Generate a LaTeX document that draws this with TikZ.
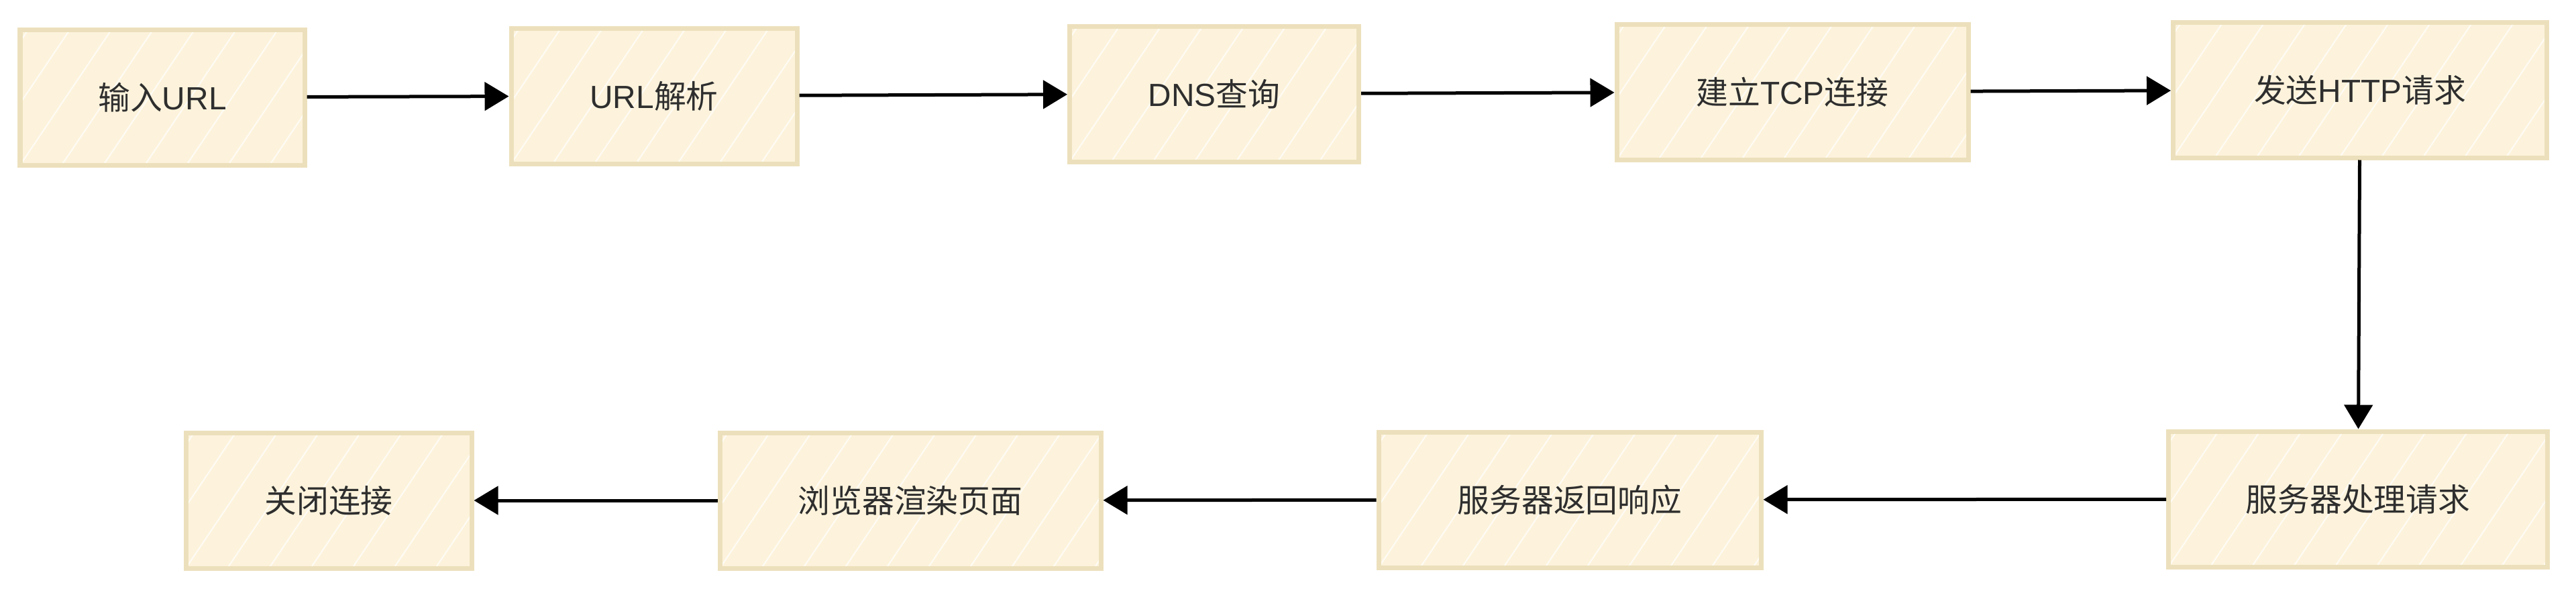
\documentclass[tikz,border=0pt]{standalone}
\usepackage{fontspec}
\setmainfont{Liberation Sans}
\newfontfamily\cjk{Noto Sans CJK SC}
\usetikzlibrary{arrows.meta}
\definecolor{boxfill}{HTML}{FDF3DC}
\definecolor{boxline}{HTML}{ECE0BC}
\definecolor{txt}{HTML}{2E2E2E}
\tikzset{
  stepbox/.style={rectangle, inner sep=0pt, fill=boxfill, draw=boxline,
    line width=0.07cm, minimum height=2.02cm, text=txt,
    font=\fontsize{13.6pt}{16pt}\selectfont,
    path picture={
      \foreach \i in {-4,...,11}{
        \draw[white, opacity=0.7, line width=0.6pt]
          ([xshift=\i*0.62cm]path picture bounding box.south west) -- ++(56:2.7cm);
      }
    }},
  arr/.style={draw=black, line width=0.05cm,
    -{Triangle[length=0.36cm, width=0.42cm]}}
}
\begin{document}
\begin{tikzpicture}
\useasboundingbox (0,0) rectangle (38.40,-8.83);
\node[stepbox, minimum width=4.24cm] (b1) at (2.42,-1.45) {{\cjk 输入}URL};
\node[stepbox, minimum width=4.26cm] (b2) at (9.75,-1.43) {URL{\cjk 解析}};
\node[stepbox, minimum width=4.31cm] (b3) at (18.10,-1.40) {DNS{\cjk 查询}};
\node[stepbox, minimum width=5.24cm] (b4) at (26.72,-1.37) {{\cjk 建立}TCP{\cjk 连接}};
\node[stepbox, minimum width=5.57cm] (b5) at (35.18,-1.34) {{\cjk 发送}HTTP{\cjk 请求}};
\node[stepbox, minimum width=5.65cm] (b6) at (35.15,-7.44) {\cjk 服务器处理请求};
\node[stepbox, minimum width=5.70cm] (b7) at (23.40,-7.45) {\cjk 服务器返回响应};
\node[stepbox, minimum width=5.68cm] (b8) at (13.57,-7.46) {\cjk 浏览器渲染页面};
\node[stepbox, minimum width=4.26cm] (b9) at (4.90,-7.46) {\cjk 关闭连接};
\draw[arr] (b1) -- (b2);
\draw[arr] (b2) -- (b3);
\draw[arr] (b3) -- (b4);
\draw[arr] (b4) -- (b5);
\draw[arr] (b5) -- (b6);
\draw[arr] (b6) -- (b7);
\draw[arr] (b7) -- (b8);
\draw[arr] (b8) -- (b9);
\end{tikzpicture}
\end{document}
